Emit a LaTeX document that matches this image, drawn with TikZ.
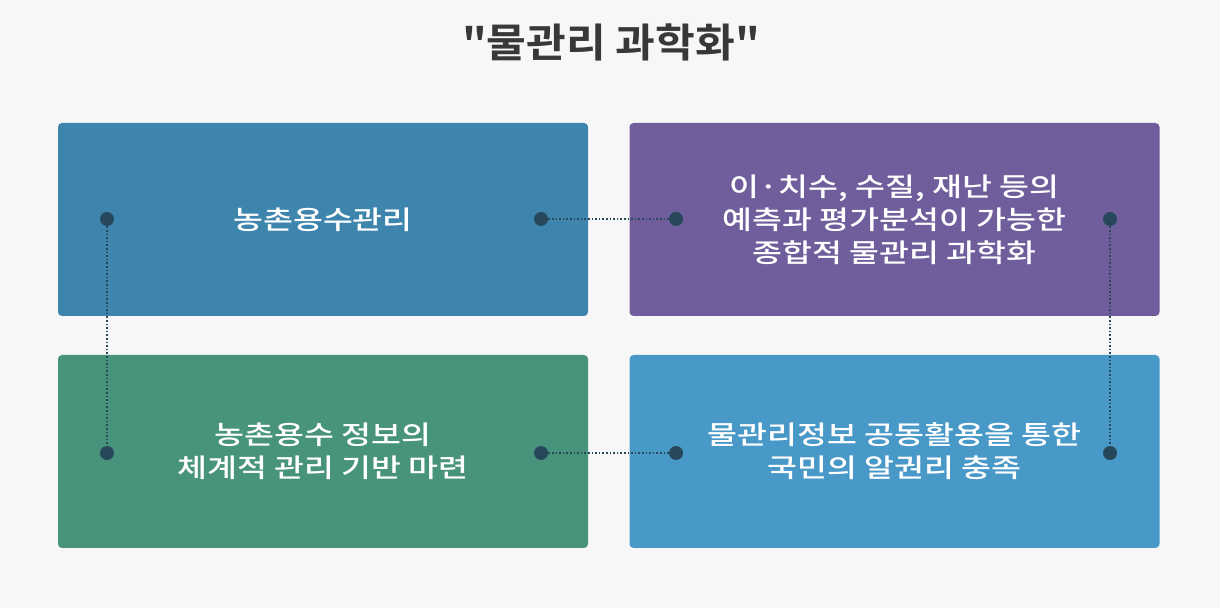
\documentclass[tikz,border=0pt]{standalone}
\usepackage{fontspec}
\setmainfont{Noto Sans CJK KR}
\newfontfamily\kw[FakeStretch=1.25]{Noto Sans CJK KR Medium}
\newfontfamily\kt[FakeStretch=1.08,Ligatures=ResetAll]{Noto Sans CJK KR Bold}
\definecolor{bgc}{HTML}{F7F7F7}
\definecolor{c1}{HTML}{3D85AD}
\definecolor{c2}{HTML}{6F5E9B}
\definecolor{c3}{HTML}{47937C}
\definecolor{c4}{HTML}{4898C8}
\definecolor{dotc}{HTML}{27485A}
\begin{document}
\begin{tikzpicture}[x=0.5pt,y=-0.5pt,
  box/.style={rounded corners=2pt,inner sep=0,minimum width=265pt,minimum height=96.5pt,text=white,align=center,font=\kw\fontsize{13pt}{16.5pt}\selectfont},
  dotn/.style={circle,fill=dotc,inner sep=0,minimum size=7pt},
  link/.style={dotc,densely dotted,line width=0.8pt}]
\fill[bgc] (0,0) rectangle (1220,608);
\useasboundingbox (0,0) rectangle (1220,608);
\node[font=\kt\fontsize{20pt}{24pt}\selectfont,text=black!78] (title) at (611,42) {\symbol{34}물관리 과학화\symbol{34}};
\node[box,fill=c1] (b1) at (323,219.5) {농촌용수관리};
\node[box,fill=c2] (b2) at (894.5,219.5) {이·치수, 수질, 재난 등의\\예측과 평가분석이 가능한\\종합적 물관리 과학화};
\node[box,fill=c3] (b3) at (323,451.5) {농촌용수 정보의\\체계적 관리 기반 마련};
\node[box,fill=c4] (b4) at (894.5,451.5) {물관리정보 공동활용을 통한\\국민의 알권리 충족};
\node[dotn] (d1) at (107,219) {};
\node[dotn] (d2) at (541,219) {};
\node[dotn] (d3) at (676,219) {};
\node[dotn] (d4) at (1110,219) {};
\node[dotn] (d5) at (107,453) {};
\node[dotn] (d6) at (541,453) {};
\node[dotn] (d7) at (676,453) {};
\node[dotn] (d8) at (1110,453) {};
\draw[link] (d2) -- (d3);
\draw[link] (d6) -- (d7);
\draw[link] (d1) -- (d5);
\draw[link] (d4) -- (d8);
\end{tikzpicture}
\end{document}
